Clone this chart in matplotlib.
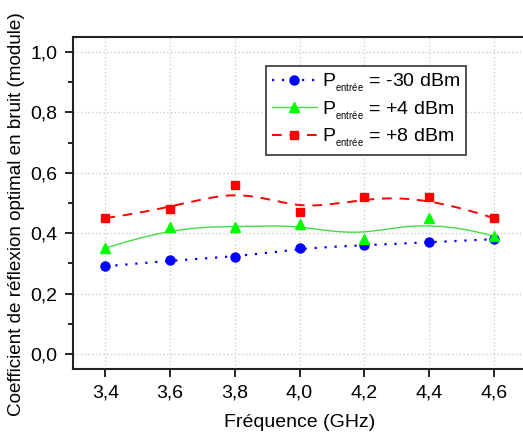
import numpy as np
import matplotlib
matplotlib.use("Agg")
import matplotlib.pyplot as plt
from matplotlib.ticker import MultipleLocator, FuncFormatter

plt.rcParams['font.family'] = ['Liberation Sans', 'DejaVu Sans']
plt.rcParams['mathtext.fontset'] = 'custom'
plt.rcParams['mathtext.rm'] = 'Liberation Sans'

# data
freq = [3.4, 3.6, 3.8, 4.0, 4.2, 4.4, 4.6]
gamma_m30 = [0.29, 0.31, 0.32, 0.35, 0.36, 0.37, 0.38]
gamma_p4 = [0.35, 0.42, 0.42, 0.43, 0.38, 0.45, 0.39]
gamma_p8 = [0.45, 0.48, 0.56, 0.47, 0.52, 0.52, 0.45]
labels = [r'P$_{_\mathregular{entrée}}$ = -30 dBm',
          r'P$_{_\mathregular{entrée}}$ = +4 dBm',
          r'P$_{_\mathregular{entrée}}$ = +8 dBm']


# clamped cubic B-spline through control points (like Origin's B-spline connector)
def bspline(x, y, n=200, k=3):
    pts = np.column_stack([x, y])
    m = len(pts)
    knots = np.concatenate([np.zeros(k), np.arange(m - k + 1), np.full(k, m - k)])
    t = np.linspace(0, m - k, n)
    t[-1] -= 1e-9
    out = []
    for tt in t:
        # Cox-de Boor basis
        N = np.array([1.0 if knots[i] <= tt < knots[i + 1] else 0.0 for i in range(len(knots) - 1)])
        for d in range(1, k + 1):
            Nn = np.zeros(len(knots) - 1 - d)
            for i in range(len(Nn)):
                a = 0.0
                if knots[i + d] != knots[i]:
                    a = (tt - knots[i]) / (knots[i + d] - knots[i]) * N[i]
                b = 0.0
                if knots[i + d + 1] != knots[i + 1]:
                    b = (knots[i + d + 1] - tt) / (knots[i + d + 1] - knots[i + 1]) * N[i + 1]
                Nn[i] = a + b
            N = Nn
        out.append(N @ pts)
    out = np.array(out)
    return out[:, 0], out[:, 1]


fig = plt.figure(figsize=(5.23, 4.37), dpi=100)
ax = fig.add_axes([73 / 523, 68 / 437, 453 / 523, 332 / 437])

series = [
    (gamma_m30, '#0000ff', 'o', (0, (1, 3.5)), 1.6, 6.5, '#0000ff'),
    (gamma_p4, '#00ff00', '^', '-', 1.0, 7, '#44dd44'),
    (gamma_p8, '#ff0000', 's', (0, (5, 4)), 1.4, 6, '#ff0000'),
]
handles = []
for (vals, col, mk, ls, lw, ms, lcol), lab in zip(series, labels):
    sx, sy = bspline(freq, vals)
    ax.plot(sx, sy, color=lcol, ls=ls, lw=lw, zorder=2)
    ax.plot(freq, vals, ls='none', marker=mk, ms=ms, color=col, zorder=3)
    h, = ax.plot([], [], color=lcol, ls=ls, lw=lw, marker=mk, ms=ms,
                 markerfacecolor=col, markeredgecolor=col)
    handles.append(h)

ax.set_xlim(3.3, 4.7)
ax.set_ylim(-0.05, 1.05)
ax.xaxis.set_major_locator(MultipleLocator(0.2))
ax.yaxis.set_major_locator(MultipleLocator(0.2))
ax.yaxis.set_minor_locator(MultipleLocator(0.1))
comma = FuncFormatter(lambda v, p: f'{v:.1f}'.replace('.', ','))
ax.xaxis.set_major_formatter(comma)
ax.yaxis.set_major_formatter(comma)
ax.tick_params(axis='both', which='major', direction='out', length=6, width=1.2,
               labelsize=14, pad=5)
ax.tick_params(axis='y', which='minor', direction='out', length=3.5, width=1.2)
ax.grid(True, which='major', color='#c8c8c8', ls=(0, (1, 2)), lw=0.9)
ax.set_axisbelow(True)
for sp in ax.spines.values():
    sp.set_linewidth(1.5)
    sp.set_color('#222222')

ax.set_xlabel('Fréquence (GHz)', fontsize=14, labelpad=9)
ax.set_ylabel('Coefficient de réflexion optimal en bruit (module)', fontsize=13.6)
ax.yaxis.set_label_coords(-0.105, 0.465)

leg = ax.legend(handles=handles, labels=labels, loc='upper left',
                bbox_to_anchor=((266 - 73) / 453, (369 - 66) / 332),
                borderaxespad=0, fontsize=14, numpoints=1, handlelength=2.3,
                handletextpad=0.3, borderpad=0.3, labelspacing=0.25,
                fancybox=False, framealpha=1)
leg.get_frame().set_edgecolor('#333333')
leg.get_frame().set_linewidth(1.2)

fig.savefig('out.png', dpi=100)
